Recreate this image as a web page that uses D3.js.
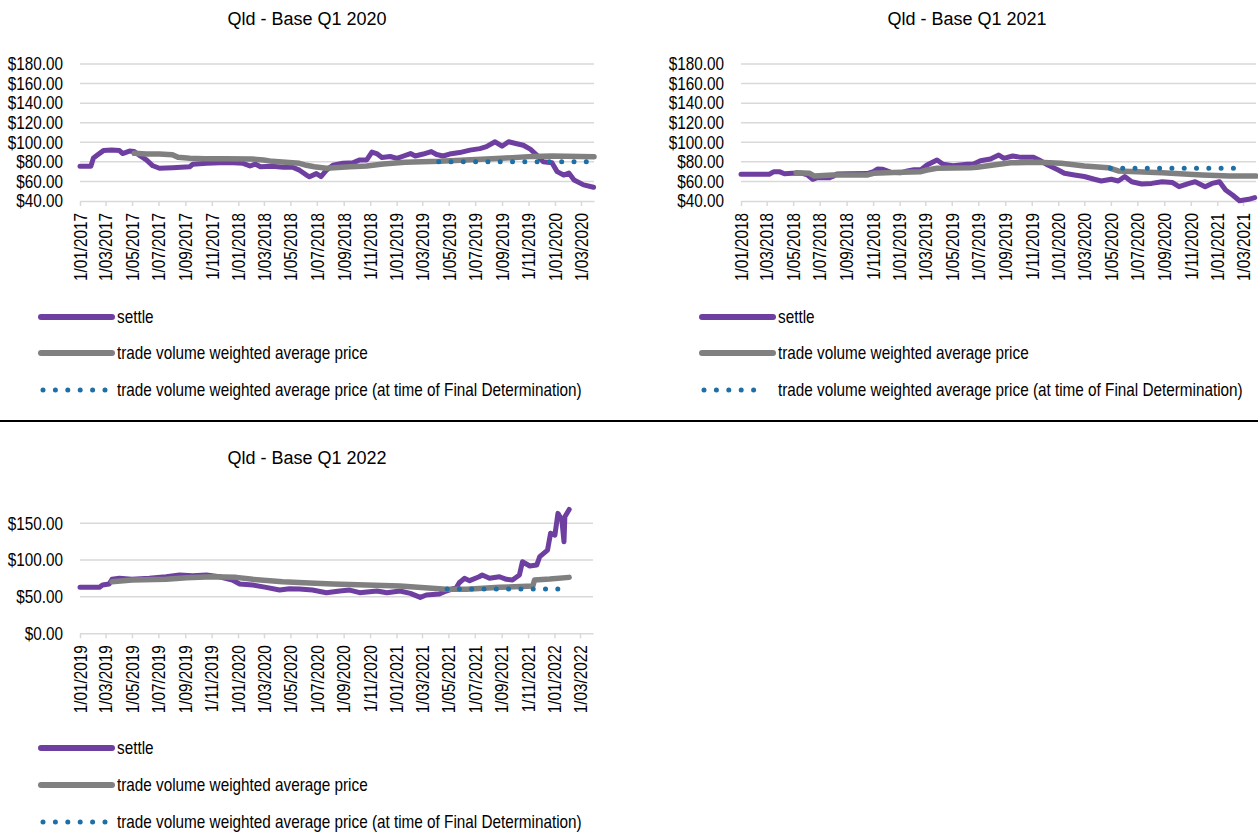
<!DOCTYPE html>
<html>
<head>
<meta charset="utf-8">
<script src="https://cdn.jsdelivr.net/npm/d3@7"></script>
<style>
  html, body { margin: 0; padding: 0; background: #ffffff; }
  svg { display: block; }
</style>
</head>
<body>
<svg id="chart" width="1258" height="834"></svg>
<script>
// ---------- DATA ----------
const titles = ["Qld - Base Q1 2020", "Qld - Base Q1 2021", "Qld - Base Q1 2022"];
const legendLabels = ["settle", "trade volume weighted average price", "trade volume weighted average price (at time of Final Determination)"];

const yTicksA = [40, 60, 80, 100, 120, 140, 160, 180];
const yTicksB = [0, 50, 100, 150];

// Qld - Base Q1 2020
const settle2020 = [["2017-01-01",75.5],["2017-01-26",75.5],["2017-02-01",84],["2017-02-10",87],["2017-02-24",91.5],["2017-03-15",92],["2017-04-02",91.5],["2017-04-09",88.5],["2017-04-25",91],["2017-05-06",90.5],["2017-05-20",86],["2017-06-03",82],["2017-06-18",76],["2017-07-03",73.5],["2017-08-02",74],["2017-09-11",75],["2017-09-18",77.5],["2017-10-20",78.5],["2017-11-20",79],["2017-12-20",79],["2018-01-12",78.5],["2018-01-28",75.8],["2018-02-09",77.8],["2018-02-21",75],["2018-03-20",75.5],["2018-04-15",74.5],["2018-05-06",74.5],["2018-05-22",71.5],["2018-06-07",66.5],["2018-06-14",64.8],["2018-06-30",68],["2018-07-11",65],["2018-07-23",71.5],["2018-08-07",76.5],["2018-08-30",78.5],["2018-09-22",79],["2018-10-08",82],["2018-10-24",82],["2018-11-05",90],["2018-11-16",88.5],["2018-11-28",84.5],["2018-12-17",85.5],["2019-01-02",83.5],["2019-01-17",86],["2019-02-02",88.5],["2019-02-13",86],["2019-03-03",88],["2019-03-22",90.5],["2019-04-03",87.5],["2019-04-18",86],["2019-05-03",88],["2019-05-26",89.5],["2019-06-19",92],["2019-07-12",93.5],["2019-07-27",95.5],["2019-08-16",100.5],["2019-09-01",96],["2019-09-16",100.5],["2019-10-05",98.5],["2019-10-20",97],["2019-11-05",93],["2019-11-20",87],["2019-12-05",80],["2019-12-25",79],["2020-01-06",70],["2020-01-21",66.5],["2020-02-02",68.5],["2020-02-14",61.5],["2020-03-07",56.5],["2020-03-30",54]];
const twap2020 = [["2017-05-06",88.7],["2017-06-03",88],["2017-07-03",88],["2017-08-02",87.3],["2017-08-15",84.6],["2017-09-11",83.6],["2017-10-15",83.2],["2017-12-01",83.2],["2018-01-31",83],["2018-02-28",81.9],["2018-03-20",80.5],["2018-05-06",79.2],["2018-05-22",78.5],["2018-06-07",76.5],["2018-06-25",75],["2018-07-23",73.4],["2018-09-15",75],["2018-10-24",75.8],["2018-12-01",77.8],["2019-01-20",79.5],["2019-04-10",80.5],["2019-06-10",82],["2019-08-31",83.6],["2019-11-10",85.6],["2019-12-25",86],["2020-03-31",85.3]];
const final2020 = [["2019-04-08",80.2],["2020-03-15",80.2]];

// Qld - Base Q1 2021
const settle2021 = [["2018-01-01",67.3],["2018-03-07",67.3],["2018-03-18",70],["2018-03-30",70],["2018-04-11",67.8],["2018-04-29",68.3],["2018-05-22",68.3],["2018-06-03",66.6],["2018-06-15",62.2],["2018-06-26",63.8],["2018-07-24",63.8],["2018-07-31",65],["2018-08-09",67.6],["2018-09-02",67.8],["2018-10-18",68],["2018-11-02",70],["2018-11-11",72.7],["2018-11-22",72.5],["2018-12-11",69.5],["2019-01-03",68.8],["2019-01-19",70.7],["2019-02-03",72],["2019-02-19",72],["2019-03-05",76.8],["2019-03-28",81.9],["2019-04-11",77.5],["2019-05-04",76],["2019-05-20",76.8],["2019-06-06",77.5],["2019-06-20",77.8],["2019-07-06",81.2],["2019-07-29",83],["2019-08-17",87],["2019-08-29",83.6],["2019-09-18",86],["2019-10-07",84.6],["2019-11-06",84.6],["2019-11-18",81.9],["2019-12-08",76.8],["2020-01-01",71.7],["2020-01-15",68.3],["2020-02-07",66.6],["2020-03-01",65],["2020-03-24",62.2],["2020-04-09",60.4],["2020-05-02",62.2],["2020-05-18",60.4],["2020-06-02",65],["2020-06-18",59.7],["2020-07-11",57.4],["2020-08-03",58],["2020-08-27",59.7],["2020-09-19",59],["2020-10-05",54.6],["2020-10-28",58],["2020-11-11",59.7],["2020-12-04",54.6],["2020-12-20",58],["2021-01-06",59.7],["2021-01-20",51.2],["2021-02-05",46.1],["2021-02-21",40.3],["2021-03-14",41.7],["2021-03-28",43.4]];
const twap2021 = [["2018-05-08",68.9],["2018-06-08",68.3],["2018-06-19",65.5],["2018-07-31",66.6],["2018-10-18",66.6],["2018-11-02",68.3],["2018-12-17",69],["2019-02-19",70],["2019-03-05",71.7],["2019-03-28",73.4],["2019-06-13",74],["2019-06-28",74.4],["2019-08-05",76.8],["2019-09-14",79.1],["2019-11-15",79.5],["2020-01-08",78.5],["2020-03-01",75.8],["2020-04-25",74],["2020-05-18",70.7],["2020-08-27",68.8],["2020-11-27",66.6],["2021-01-29",65.5],["2021-03-31",65.5]];
const final2021 = [["2020-04-30",73.4],["2021-03-07",73.4]];

// Qld - Base Q1 2022
const settle2022 = [["2019-01-01",62.7],["2019-02-15",62.7],["2019-02-22",65.9],["2019-03-09",67.2],["2019-03-16",73.6],["2019-04-02",75],["2019-05-01",73.6],["2019-06-10",75],["2019-07-19",77.2],["2019-08-19",79.5],["2019-09-18",78.6],["2019-10-20",79.5],["2019-11-19",77.2],["2019-12-19",72.7],["2020-01-05",67.2],["2020-02-04",65.9],["2020-03-06",62.7],["2020-04-06",59],["2020-04-29",60.8],["2020-05-22",60.5],["2020-06-21",59],["2020-07-23",55.4],["2020-08-23",57.7],["2020-09-15",59],["2020-10-08",55.4],["2020-11-17",57.7],["2020-12-10",55.4],["2021-01-09",57.7],["2021-02-02",54.5],["2021-02-25",49],["2021-03-11",52.2],["2021-04-10",53.6],["2021-04-26",57.7],["2021-05-19",62.2],["2021-05-26",69],["2021-06-07",75],["2021-06-19",71.8],["2021-07-11",77.2],["2021-07-18",79.5],["2021-08-04",75],["2021-08-27",77.2],["2021-09-12",73.6],["2021-09-26",72.7],["2021-10-12",79.5],["2021-10-19",97.6],["2021-11-05",91.8],["2021-11-21",93.1],["2021-11-28",104.5],["2021-12-16",113.6],["2021-12-23",136.4],["2022-01-02",134],["2022-01-09",163.6],["2022-01-18",154.5],["2022-01-23",124.9],["2022-01-25",159],["2022-02-04",169]];
const twap2022 = [["2019-03-16",70.4],["2019-05-01",72.7],["2019-07-19",73.6],["2019-09-04",75.9],["2019-11-03",77.2],["2019-12-28",76.3],["2020-02-04",73.6],["2020-04-13",70.4],["2020-06-14",68.6],["2020-08-07",67.2],["2020-10-24",65.9],["2021-01-09",64.5],["2021-03-24",61.4],["2021-04-26",60],["2021-06-12",60],["2021-08-27",62.7],["2021-11-12",64.5],["2021-11-16",72.7],["2021-12-21",74],["2022-02-04",76.3]];
const final2022 = [["2021-04-28",60.4],["2022-01-10",60.4]];

// ---------- STYLE ----------
const COL_SETTLE = "#6e3fa0";
const COL_TWAP = "#808080";
const COL_FINAL = "#1d6fa5";
const COL_GRID = "#d9d9d9";
const FONT = '"Liberation Sans", Arial, sans-serif';
const FS = 18;          // font size of axis/legend text
const NARROW = 0.85;    // horizontal condensing to mimic a narrow face

const svg = d3.select("#chart");
const parse = d3.timeParse("%Y-%m-%d");
const fmtDate = d3.timeFormat("%-d/%m/%Y");
const fmtMoney = v => "$" + d3.format(".2f")(v);

const charts = [
  { title: titles[0], settle: settle2020, twap: twap2020, fin: final2020,
    x0: "2017-01-01", x1: "2020-03-31", left: 80, right: 594, top: 64, bottom: 201,
    yDomain: [40, 180], yTicks: yTicksA, titleX: 307, titleY: 25, legendX: 41, legendY: [317, 353, 390] },
  { title: titles[1], settle: settle2021, twap: twap2021, fin: final2021,
    x0: "2018-01-01", x1: "2021-03-31", left: 741, right: 1256, top: 64, bottom: 201,
    yDomain: [40, 180], yTicks: yTicksA, titleX: 967, titleY: 25, legendX: 702, legendY: [317, 353, 390] },
  { title: titles[2], settle: settle2022, twap: twap2022, fin: final2022,
    x0: "2019-01-01", x1: "2022-03-31", left: 80, right: 593, top: 486.7, bottom: 633.3,
    yDomain: [0, 200], yTicks: yTicksB, titleX: 307, titleY: 464, legendX: 41, legendY: [748, 785, 822] }
];

function drawChart(c) {
  const g = svg.append("g");
  const x = d3.scaleTime().domain([parse(c.x0), parse(c.x1)]).range([c.left, c.right]);
  const y = d3.scaleLinear().domain(c.yDomain).range([c.bottom, c.top]);

  // title
  g.append("text").attr("x", c.titleX).attr("y", c.titleY)
    .attr("text-anchor", "middle").style("font-size", "18px").style("font-family", FONT)
    .attr("fill", "#000").text(c.title);

  // gridlines
  g.append("g").selectAll("line").data(c.yTicks.filter(v => v !== c.yDomain[0])).join("line")
    .attr("x1", c.left).attr("x2", c.right)
    .attr("y1", d => y(d)).attr("y2", d => y(d))
    .attr("stroke", COL_GRID).attr("stroke-width", 1.5);

  // y axis labels
  const ya = g.append("g").attr("transform", `translate(${c.left},0)`)
    .call(d3.axisLeft(y).tickValues(c.yTicks).tickFormat(fmtMoney).tickSize(0));
  ya.select(".domain").remove();
  ya.selectAll("text")
    .style("font-size", FS + "px").style("font-family", FONT).attr("fill", "#000")
    .attr("x", -17 / NARROW)
    .attr("transform", `scale(${NARROW},1)`);

  // x axis
  const ticks = d3.timeMonth.every(2).range(parse(c.x0), x.domain()[1]);
  const xa = g.append("g").attr("transform", `translate(0,${c.bottom})`)
    .call(d3.axisBottom(x).tickValues(ticks).tickFormat(fmtDate).tickSize(5).tickSizeOuter(0));
  xa.select(".domain").attr("stroke", COL_GRID).attr("stroke-width", 1.5);
  xa.selectAll(".tick line").attr("stroke", COL_GRID).attr("stroke-width", 1.5);
  xa.selectAll("text")
    .style("font-size", FS + "px").style("font-family", FONT).attr("fill", "#000")
    .attr("text-anchor", "end")
    .attr("transform", `rotate(-90) scale(${NARROW},1)`)
    .attr("x", -12 / NARROW).attr("y", 0).attr("dy", "0.35em");

  const line = d3.line().x(d => x(parse(d[0]))).y(d => y(d[1]));

  g.append("path").datum(c.settle).attr("d", line).attr("fill", "none")
    .attr("stroke", COL_SETTLE).attr("stroke-width", 5).attr("stroke-linejoin", "round").attr("stroke-linecap", "round");
  g.append("path").datum(c.twap).attr("d", line).attr("fill", "none")
    .attr("stroke", COL_TWAP).attr("stroke-width", 5.5).attr("stroke-linejoin", "round").attr("stroke-linecap", "round");
  g.append("path").datum(c.fin).attr("d", line).attr("fill", "none")
    .attr("stroke", COL_FINAL).attr("stroke-width", 5).attr("stroke-linecap", "round").attr("stroke-dasharray", "0 12.3");

  // legend
  const styles = [
    { col: COL_SETTLE, w: 6, dash: null, x2: c.legendX + 71 },
    { col: COL_TWAP, w: 6, dash: null, x2: c.legendX + 71 },
    { col: COL_FINAL, w: 5, dash: "0 12.4", x2: c.legendX + 64 }
  ];
  styles.forEach((s, i) => {
    const ly = c.legendY[i];
    const ln = g.append("line").attr("x1", c.legendX + (s.dash ? 2 : 0)).attr("x2", s.x2)
      .attr("y1", ly).attr("y2", ly).attr("stroke", s.col).attr("stroke-width", s.w).attr("stroke-linecap", "round");
    if (s.dash) ln.attr("stroke-dasharray", s.dash);
    g.append("text")
      .attr("transform", `translate(${c.legendX + 76},${ly}) scale(${NARROW},1)`)
      .attr("x", 0).attr("y", 0).attr("dy", "0.35em")
      .style("font-size", FS + "px").style("font-family", FONT).attr("fill", "#000")
      .text(legendLabels[i]);
  });
}

charts.forEach(drawChart);

// separator line between rows
svg.append("line").attr("x1", 0).attr("x2", 1258).attr("y1", 421).attr("y2", 421)
  .attr("stroke", "#000").attr("stroke-width", 2);
</script>
</body>
</html>
